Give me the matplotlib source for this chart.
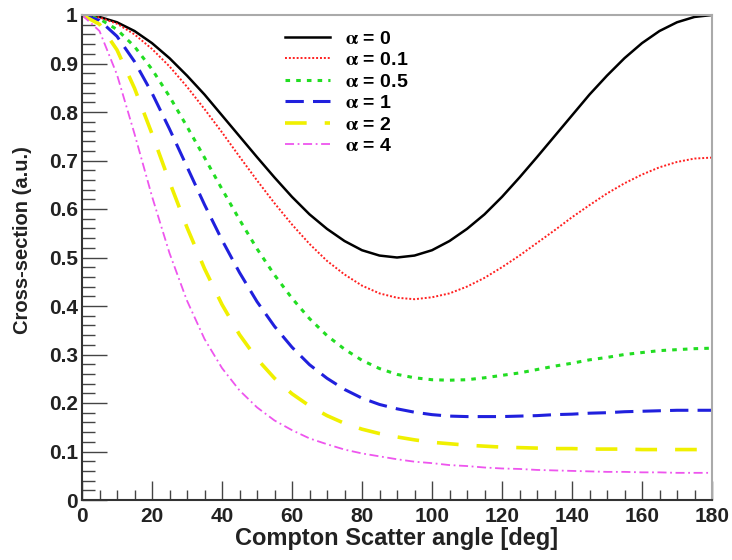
import matplotlib.pyplot as plt
from matplotlib.ticker import MultipleLocator

plt.rcParams['font.family'] = ['Liberation Sans', 'DejaVu Sans']
plt.rcParams['font.weight'] = 'bold'
plt.rcParams['axes.labelweight'] = 'bold'
plt.rcParams['mathtext.fontset'] = 'stix'

angle = list(range(0, 181, 5))

xs_a0 = [1.000, 0.996, 0.985, 0.967, 0.942, 0.911, 0.875, 0.836, 0.793, 0.750,
         0.707, 0.665, 0.625, 0.589, 0.559, 0.534, 0.515, 0.504, 0.500, 0.504,
         0.515, 0.534, 0.559, 0.589, 0.625, 0.665, 0.707, 0.750, 0.793, 0.836,
         0.875, 0.911, 0.942, 0.967, 0.985, 0.996, 1.000]
xs_a01 = [1.000, 0.995, 0.982, 0.960, 0.930, 0.894, 0.852, 0.806, 0.758, 0.708,
          0.659, 0.612, 0.568, 0.528, 0.493, 0.465, 0.442, 0.426, 0.417, 0.414,
          0.418, 0.426, 0.440, 0.458, 0.480, 0.504, 0.530, 0.556, 0.583, 0.608,
          0.632, 0.653, 0.671, 0.686, 0.697, 0.704, 0.706]
xs_a05 = [1.000, 0.992, 0.970, 0.935, 0.888, 0.832, 0.770, 0.706, 0.641, 0.578,
          0.518, 0.464, 0.416, 0.374, 0.339, 0.311, 0.288, 0.271, 0.259, 0.252,
          0.248, 0.247, 0.248, 0.252, 0.257, 0.262, 0.269, 0.276, 0.282, 0.289,
          0.294, 0.300, 0.304, 0.308, 0.310, 0.312, 0.313]
xs_a1 = [1.000, 0.989, 0.956, 0.904, 0.839, 0.765, 0.687, 0.609, 0.536, 0.469,
         0.409, 0.358, 0.315, 0.279, 0.251, 0.228, 0.210, 0.197, 0.188, 0.181,
         0.176, 0.173, 0.172, 0.172, 0.172, 0.173, 0.174, 0.176, 0.177, 0.179,
         0.180, 0.182, 0.183, 0.184, 0.185, 0.185, 0.185]
xs_a2 = [1.000, 0.981, 0.928, 0.849, 0.755, 0.656, 0.562, 0.477, 0.403, 0.341,
         0.291, 0.251, 0.219, 0.194, 0.174, 0.158, 0.146, 0.137, 0.130, 0.124,
         0.119, 0.116, 0.113, 0.111, 0.109, 0.108, 0.107, 0.106, 0.106, 0.105,
         0.105, 0.105, 0.104, 0.104, 0.104, 0.104, 0.104]
xs_a4 = [1.000, 0.967, 0.877, 0.755, 0.626, 0.509, 0.411, 0.332, 0.272, 0.226,
         0.191, 0.164, 0.144, 0.127, 0.115, 0.104, 0.096, 0.090, 0.084, 0.079,
         0.076, 0.072, 0.070, 0.067, 0.065, 0.064, 0.062, 0.061, 0.060, 0.059,
         0.058, 0.058, 0.057, 0.057, 0.056, 0.056, 0.056]

labels = [r'$\mathrm{\alpha}$ = 0', r'$\mathrm{\alpha}$ = 0.1', r'$\mathrm{\alpha}$ = 0.5',
          r'$\mathrm{\alpha}$ = 1', r'$\mathrm{\alpha}$ = 2', r'$\mathrm{\alpha}$ = 4']

fig = plt.figure(figsize=(7.32, 5.6), dpi=100)
ax = fig.add_axes([82 / 732, 60 / 560, 630 / 732, 485 / 560])

ax.plot(angle, xs_a0, color='black', lw=1.8, label=labels[0])
ax.plot(angle, xs_a01, color='#ff2020', lw=1.4, linestyle=(0, (1, 1)), label=labels[1])
ax.plot(angle, xs_a05, color='#22dd22', lw=2.2, linestyle=(0, (1.5, 2)), label=labels[2])
ax.plot(angle, xs_a1, color='#2020dd', lw=2.2, linestyle=(0, (6, 3)), label=labels[3])
ax.plot(angle, xs_a2, color='#f0f000', lw=2.6, linestyle=(0, (6, 5)), label=labels[4])
ax.plot(angle, xs_a4, color='#ee55ee', lw=1.3, linestyle=(0, (5, 2, 1, 2)), label=labels[5])

ax.set_xlim(0, 180)
ax.set_ylim(0, 1)
ax.xaxis.set_minor_locator(MultipleLocator(5))
ax.yaxis.set_minor_locator(MultipleLocator(0.02))
ax.set_xticks(range(0, 181, 20))
ax.set_xticklabels(['0', '20', '40', '60', '80', '100', '120', '140', '160', '180'])
ax.set_yticks([i / 10 for i in range(11)])
ax.set_yticklabels(['0', '0.1', '0.2', '0.3', '0.4', '0.5', '0.6', '0.7', '0.8', '0.9', '1'])

ax.tick_params(which='both', direction='in', top=False, right=False, colors='#444444',
               labelcolor='#222222', labelsize=15)
ax.tick_params(axis='x', which='major', length=14, width=1, pad=5)
ax.tick_params(axis='x', which='minor', length=7, width=1)
ax.tick_params(axis='y', which='major', length=18, width=1, pad=3)
ax.tick_params(axis='y', which='minor', length=9, width=1)

for side in ['left', 'bottom']:
    ax.spines[side].set_color('#333333')
    ax.spines[side].set_linewidth(1.5)
for side in ['top', 'right']:
    ax.spines[side].set_color('#aaaaaa')
    ax.spines[side].set_linewidth(1.5)

ax.set_xlabel('Compton Scatter angle [deg]', fontsize=17, color='#222222', labelpad=1)
ax.set_ylabel('Cross-section (a.u.)', fontsize=14.5, color='#222222')
ax.yaxis.set_label_coords(-0.08, 0.535)

ax.legend(loc='upper left', bbox_to_anchor=(0.31, 0.985), frameon=False, fontsize=14,
          handlelength=2.3, labelspacing=0.2, handletextpad=0.8, borderaxespad=0)

fig.savefig('out.png', dpi=100)
